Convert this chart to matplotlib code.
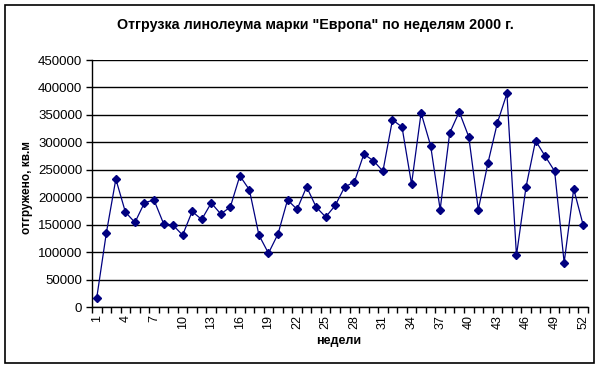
import numpy as np
import matplotlib.pyplot as plt
from matplotlib.patches import Rectangle

plt.rcParams['font.family'] = ['Liberation Sans', 'DejaVu Sans']

weeks = list(range(1, 53))
shipped = [17000, 134500, 233000, 173000, 154000, 190000, 195000, 152000, 149000, 131000,
           174000, 159500, 189500, 169500, 182000, 239000, 213500, 131000, 98000, 133000,
           195000, 178000, 219000, 182000, 164000, 185000, 219000, 227500, 278500, 266500,
           247500, 341000, 328000, 224000, 353500, 294000, 177500, 317000, 355500, 310000,
           177500, 261500, 335500, 389000, 94000, 218500, 303000, 275000, 247500, 81000,
           215000, 149000]
y_ticks = list(range(0, 450001, 50000))

title = 'Отгрузка линолеума марки "Европа" по неделям 2000 г.'
x_title = 'недели'
y_title = 'отгружено, кв.м'

W, H = 603, 368
fig = plt.figure(figsize=(W / 100, H / 100), dpi=100)
fig.patches.append(Rectangle((5 / W, 5 / H), 589 / W, 358 / H, transform=fig.transFigure,
                             fill=False, edgecolor='black', linewidth=1.2))

ax = fig.add_axes([92 / W, (H - 307) / H, 496 / W, 247 / H])
ax.plot(weeks, shipped, color='#000080', linewidth=0.9, marker='D', markersize=4,
        markerfacecolor='#000080', markeredgecolor='#000080', zorder=3)

ax.set_xlim(0.5, 52.5)
ax.set_ylim(0, 450000)
ax.set_yticks(y_ticks)
ax.set_yticklabels([str(v) for v in y_ticks], fontsize=9.5)
ax.yaxis.grid(True, color='black', linewidth=1)
ax.set_axisbelow(True)

ax.set_xticks(weeks[::3])
ax.set_xticklabels([str(w) for w in weeks[::3]], rotation=90, fontsize=9)
ax.set_xticks(np.arange(0.5, 53, 1), minor=True)
ax.tick_params(axis='x', which='major', length=0, pad=6)
ax.tick_params(axis='x', which='minor', length=4, width=1, direction='out')
ax.tick_params(axis='y', length=4, width=1, direction='out', pad=3)

for s in ['top', 'right']:
    ax.spines[s].set_visible(False)
for s in ['left', 'bottom']:
    ax.spines[s].set_linewidth(1)

fig.text(315 / W, 1 - 25 / H, title, ha='center', va='center', fontsize=10.3, fontweight='bold')
fig.text(339 / W, 1 - 341 / H, x_title, ha='center', va='center', fontsize=9, fontweight='bold')
fig.text(27 / W, 1 - 187 / H, y_title, ha='center', va='center', rotation=90,
         fontsize=8.5, fontweight='bold')

fig.savefig('out.png', dpi=100)
